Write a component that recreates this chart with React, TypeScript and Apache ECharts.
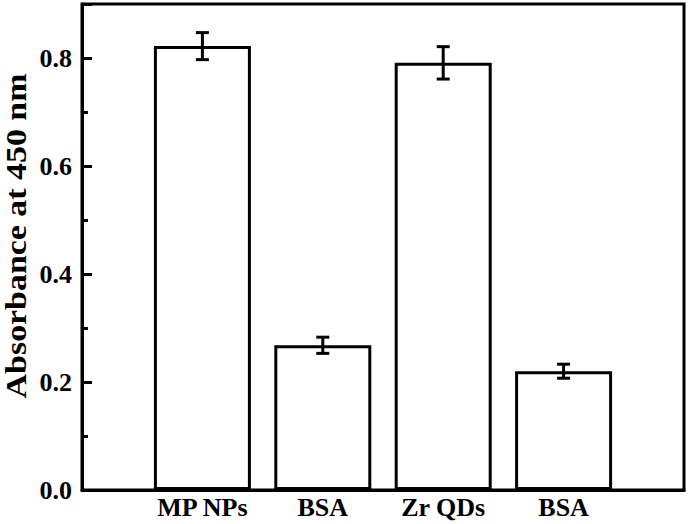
import React, { useEffect, useRef } from "react";
import * as echarts from "echarts";

const categories = ["MP NPs", "BSA", "Zr QDs", "BSA"];
const values = [0.822, 0.268, 0.791, 0.220];
const errors = [0.025, 0.015, 0.03, 0.013];
const yTicks = [0, 0.2, 0.4, 0.6, 0.8];
const yTitle = "Absorbance at 450 nm";

const FONT = "Liberation Serif, Times New Roman, serif";

export default function App() {
  const ref = useRef<HTMLDivElement>(null);
  useEffect(() => {
    if (!ref.current) return;
    const chart = echarts.init(ref.current, null, { renderer: "svg" });
    const barData = values.map((v, i) => [i + 1, v]);
    const errData = values.map((v, i) => [i + 1, v - errors[i], v + errors[i]]);
    chart.setOption({
      animation: false,
      backgroundColor: "#fff",
      grid: {
        left: 82,
        right: 4,
        top: 4,
        bottom: 34,
        show: true,
        borderColor: "#000",
        borderWidth: 3,
        backgroundColor: "transparent",
      },
      xAxis: {
        type: "value",
        min: 0,
        max: 5,
        interval: 1,
        axisLine: { show: true, lineStyle: { color: "#000", width: 3 } },
        axisTick: { show: false },
        splitLine: { show: false },
        axisLabel: {
          margin: 4,
          color: "#000",
          fontFamily: FONT,
          fontWeight: "bold",
          fontSize: 26,
          formatter: (v: number) => {
            const i = Math.round(v) - 1;
            return i >= 0 && i < categories.length ? categories[i] : "";
          },
        },
      },
      yAxis: [
        {
          type: "value",
          min: 0,
          max: 0.9,
          interval: 0.2,
          axisLine: { show: true, lineStyle: { color: "#000", width: 3 } },
          axisTick: { show: true, inside: true, length: 10, lineStyle: { color: "#000", width: 3 } },
          splitLine: { show: false },
          axisLabel: {
            margin: 10,
            color: "#000",
            fontFamily: FONT,
            fontWeight: "bold",
            fontSize: 26,
            formatter: (v: number) => {
              const ok = yTicks.some((t) => Math.abs(t - v) < 1e-6);
              return ok ? v.toFixed(1) : "";
            },
          },
        },
        {
          type: "value",
          min: 0,
          max: 0.9,
          interval: 0.1,
          position: "left",
          axisLine: { show: false },
          axisTick: { show: true, inside: true, length: 6, lineStyle: { color: "#000", width: 3 } },
          splitLine: { show: false },
          axisLabel: { show: false },
        },
      ],
      graphic: [
        {
          type: "text",
          x: 16,
          y: 236,
          rotation: Math.PI / 2,
          scaleX: 1.13,
          style: {
            text: yTitle,
            fontFamily: FONT,
            fontWeight: "bold",
            fontSize: 30,
            fill: "#000",
            align: "center",
            verticalAlign: "middle",
            textAlign: "center",
            textVerticalAlign: "middle",
          },
        },
      ],
      series: [
        {
          type: "bar",
          data: barData,
          barWidth: 97,
          itemStyle: { color: "#fff", borderColor: "#000", borderWidth: 3 },
          z: 2,
        },
        {
          type: "custom",
          data: errData,
          z: 3,
          renderItem: (params: any, api: any) => {
            const x = api.value(0);
            const lo = api.coord([x, api.value(1)]);
            const hi = api.coord([x, api.value(2)]);
            const w = 6.5;
            const style = { stroke: "#000", lineWidth: 3, fill: "none" };
            return {
              type: "group",
              children: [
                { type: "line", shape: { x1: lo[0], y1: lo[1], x2: hi[0], y2: hi[1] }, style },
                { type: "line", shape: { x1: hi[0] - w, y1: hi[1], x2: hi[0] + w, y2: hi[1] }, style },
                { type: "line", shape: { x1: lo[0] - w, y1: lo[1], x2: lo[0] + w, y2: lo[1] }, style },
              ],
            };
          },
        },
      ],
    });
    return () => chart.dispose();
  }, []);
  return (
    <div
      ref={ref}
      style={{ width: 688, height: 524, position: "absolute", left: 0, top: 0 }}
    />
  );
}
